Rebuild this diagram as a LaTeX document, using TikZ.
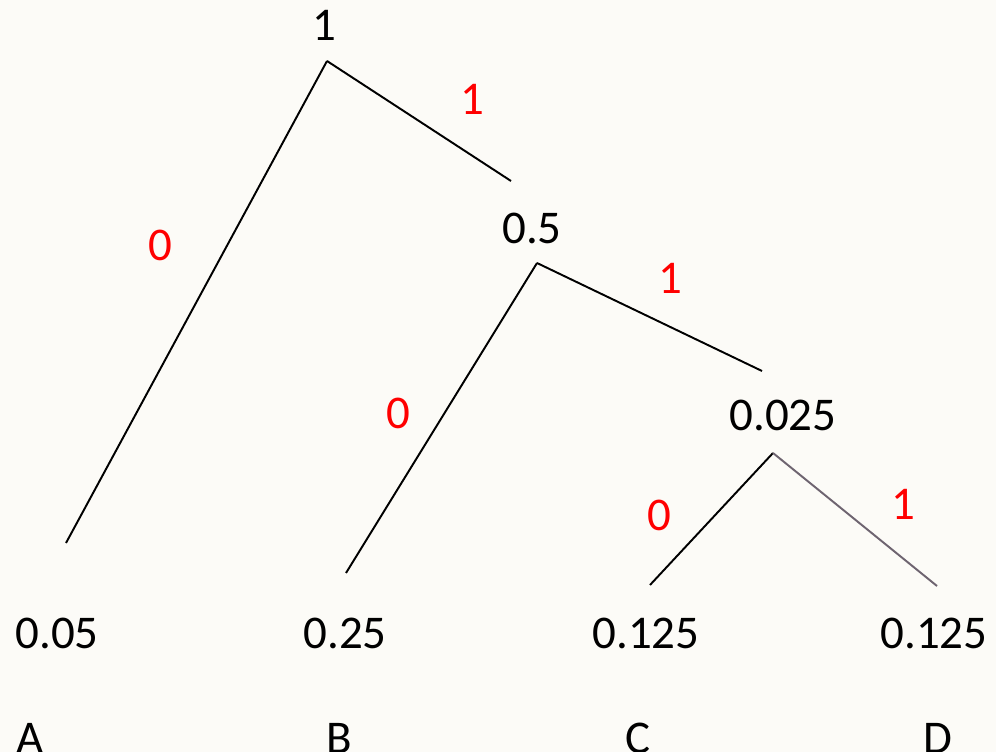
\documentclass[tikz,border=0pt]{standalone}
\usepackage{fontspec}
\setmainfont{Carlito}
\definecolor{paper}{RGB}{252,251,247}
\definecolor{edgegray}{RGB}{110,100,112}
\begin{document}
\begin{tikzpicture}[
x=0.2mm, y=-0.2mm,
every node/.style={
inner sep=0pt,
font=\fontsize{26.7}{32}\selectfont
},
bit/.style={text=red},
edge/.style={line width=1.1pt}
]

\fill[paper] (0,0) rectangle (996,752);
\useasboundingbox (0,0) rectangle (996,752);

% probabilities
\node (R) at (324,25) {1};
\node (N1) at (532,228) {0.5};
\node (N2) at (783,415) {0.025};
\node (LA) at (57,633) {0.05};
\node (LB) at (345,633) {0.25};
\node (LC) at (646,633) {0.125};
\node (LD) at (934,633) {0.125};

% symbols
\node (A) at (30,738) {A};
\node (B) at (339,738) {B};
\node (C) at (638,738) {C};
\node (D) at (938,738) {D};

% line ends
\coordinate (r) at (327,61);
\coordinate (ra) at (66,543);
\coordinate (rb) at (511,181);
\coordinate (n1) at (537,263);
\coordinate (n1a) at (346,573);
\coordinate (n1b) at (762,371);
\coordinate (n2) at (773,453);
\coordinate (n2a) at (650,585);
\coordinate (n2b) at (937,586);

\draw[edge] (r) -- (ra);
\draw[edge] (r) -- (rb);
\draw[edge] (n1) -- (n1a);
\draw[edge] (n1) -- (n1b);
\draw[edge] (n2) -- (n2a);
\draw[edge, draw=edgegray] (n2) -- (n2b);

% bits
\node[bit] (b1) at (160,245) {0};
\node[bit] (b2) at (472,99) {1};
\node[bit] (b3) at (398,413) {0};
\node[bit] (b4) at (670,278) {1};
\node[bit] (b5) at (659,515) {0};
\node[bit] (b6) at (903,504) {1};

\end{tikzpicture}
\end{document}
